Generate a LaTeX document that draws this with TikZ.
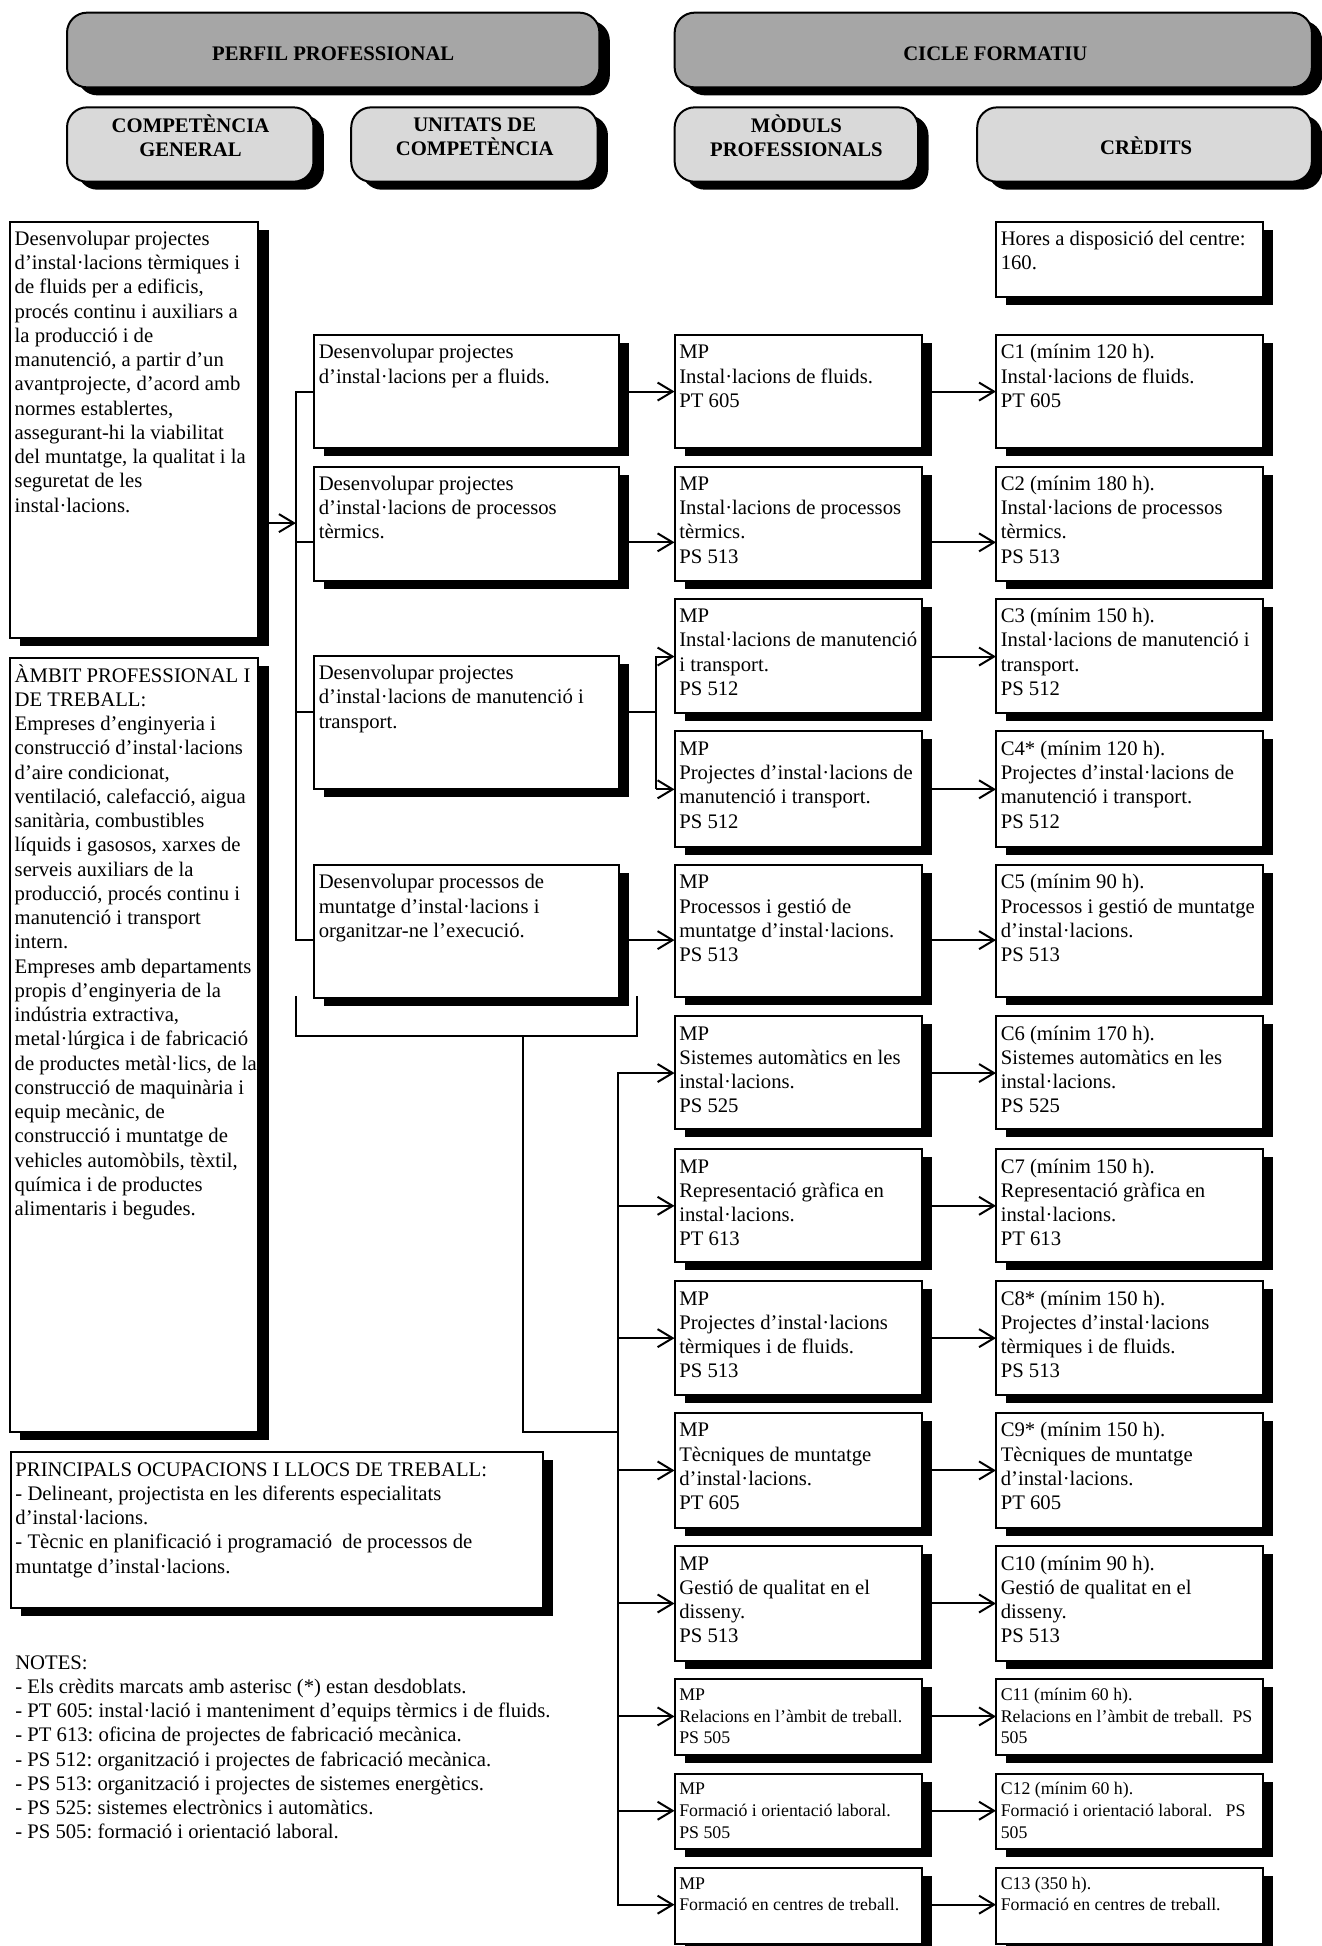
\documentclass[tikz,border=0pt]{standalone}
\usepackage{fontspec}
\setmainfont{Liberation Serif}
\usetikzlibrary{arrows.meta,shadows}
\definecolor{hdrdark}{RGB}{166,166,166}
\definecolor{hdrlight}{RGB}{217,217,217}
\frenchspacing
\newcommand{\nolsk}{\setlength{\lineskiplimit}{-20pt}\setlength{\lineskip}{0pt}}
\newcommand{\mkbox}[6]{%
  \node[box, minimum width={(#4-#2)*0.62066pt}, minimum height={(#5-#3)*0.62066pt}] (#1) at ({(#2+#4)/2},{(#3+#5)/2}) {};
  \node[txt] (#1-t) at ([xshift=2.2pt,yshift=-3.2pt]#1.north west) {\strut #6};%
}
\newcommand{\mksmbox}[6]{%
  \node[box, minimum width={(#4-#2)*0.62066pt}, minimum height={(#5-#3)*0.62066pt}] (#1) at ({(#2+#4)/2},{(#3+#5)/2}) {};
  \node[stxt] (#1-t) at ([xshift=2.2pt,yshift=-2.8pt]#1.north west) {\strut #6};%
}
\newcommand{\mkhdr}[6]{%
  \node[hdr, fill=#2, minimum width={(#5-#3)*0.62066pt}, minimum height={(#6-#4)*0.62066pt}] (#1) at ({(#3+#5)/2},{(#4+#6)/2}) {};%
}
\begin{document}
\begin{tikzpicture}[x=0.62066pt, y=-0.62066pt,
  ln/.style={line width=1pt, line cap=rect},
  arr/.style={line width=1pt, -{Straight Barb[length=7.5pt,width=9pt]}},
  box/.style={draw, line width=1pt, fill=white, inner sep=0pt, outer sep=0pt,
    drop shadow={shadow xshift=5.2pt, shadow yshift=-4pt, fill=black, opacity=1}},
  hdr/.style={draw, line width=1pt, inner sep=0pt, outer sep=0pt, rounded corners=10pt,
    drop shadow={shadow xshift=5.2pt, shadow yshift=-4pt, fill=black, opacity=1}},
  txt/.style={anchor=north west, inner sep=0pt, align=left, font=\fontsize{10.35pt}{12.13pt}\selectfont\nolsk},
  stxt/.style={anchor=north west, inner sep=0pt, align=left, font=\fontsize{8.9pt}{10.85pt}\selectfont\nolsk},
  htxt/.style={inner sep=0pt, align=center, font=\bfseries\fontsize{10.35pt}{12.13pt}\selectfont\nolsk}]
\useasboundingbox[fill=white] (0,0) rectangle (1065,1568);

% headers
\mkhdr{perfil}{hdrdark}{54}{10.2}{483}{70.4}
\node[htxt, anchor=base] (perfil-t) at (268.5,48.5) {PERFIL PROFESSIONAL};
\mkhdr{cicle}{hdrdark}{543.6}{10.2}{1057}{70.4}
\node[htxt, anchor=base] (cicle-t) at (802,48.5) {CICLE FORMATIU};
\mkhdr{hcg}{hdrlight}{54}{86.5}{252.6}{146.4}
\node[htxt, anchor=north] (hcg-t) at (153.5,91.8) {\strut COMPETÈNCIA\\GENERAL};
\mkhdr{huc}{hdrlight}{283}{86.5}{481.5}{146.4}
\node[htxt, anchor=north] (huc-t) at (382.5,91.8) {\strut UNITATS DE\\COMPETÈNCIA};
\mkhdr{hmp}{hdrlight}{543.6}{86.5}{739.8}{146.4}
\node[htxt, anchor=north] (hmp-t) at (641.7,91.8) {\strut MÒDULS\\PROFESSIONALS};
\mkhdr{hcr}{hdrlight}{787.4}{86.5}{1057}{146.4}
\node[htxt, anchor=base] (hcr-t) at (923.5,124.5) {CRÈDITS};

% left column
\mkbox{cg}{8}{178.6}{208}{513.7}{Desenvolupar projectes\\d’instal·lacions tèrmiques i\\de fluids per a edificis,\\procés continu i auxiliars a\\la producció i de\\manutenció, a partir d’un\\avantprojecte, d’acord amb\\normes establertes,\\assegurant-hi la viabilitat\\del muntatge, la qualitat i la\\seguretat de les\\instal·lacions.}
\mkbox{amb}{8}{529.8}{208}{1154}{ÀMBIT PROFESSIONAL I\\DE TREBALL:\\Empreses d’enginyeria i\\construcció d’instal·lacions\\d’aire condicionat,\\ventilació, calefacció, aigua\\sanitària, combustibles\\líquids i gasosos, xarxes de\\serveis auxiliars de la\\producció, procés continu i\\manutenció i transport\\intern.\\Empreses amb departaments\\propis d’enginyeria de la\\indústria extractiva,\\metal·lúrgica i de fabricació\\de productes metàl·lics, de la\\construcció de maquinària i\\equip mecànic, de\\construcció i muntatge de\\vehicles automòbils, tèxtil,\\química i de productes\\alimentaris i begudes.}
\mkbox{ocup}{8.6}{1170.3}{437.2}{1295.7}{PRINCIPALS OCUPACIONS I LLOCS DE TREBALL:\\- Delineant, projectista en les diferents especialitats\\d’instal·lacions.\\- Tècnic en planificació i programació\ \ de processos de\\muntatge d’instal·lacions.}
\node[txt] (notes) at (12,1330.8) {\strut NOTES:\\- Els crèdits marcats amb asterisc (*) estan desdoblats.\\- PT 605: instal·lació i manteniment d’equips tèrmics i de fluids.\\- PT 613: oficina de projectes de fabricació mecànica.\\- PS 512: organització i projectes de fabricació mecànica.\\- PS 513: organització i projectes de sistemes energètics.\\- PS 525: sistemes electrònics i automàtics.\\- PS 505: formació i orientació laboral.};

% unitats de competencia
\mkbox{uc1}{253}{270}{498.7}{361}{Desenvolupar projectes\\d’instal·lacions per a fluids.}
\mkbox{uc2}{253}{376}{498.7}{468}{Desenvolupar projectes\\d’instal·lacions de processos\\tèrmics.}
\mkbox{uc3}{253}{528.5}{498.7}{635.6}{Desenvolupar projectes\\d’instal·lacions de manutenció i\\transport.}
\mkbox{uc4}{253}{697}{498.7}{804}{Desenvolupar processos de\\muntatge d’instal·lacions i\\organitzar-ne l’execució.}

% moduls
\mkbox{mp1}{543.5}{270}{742.5}{361}{MP\\Instal·lacions de fluids.\\PT 605}
\mkbox{mp2}{543.5}{376}{742.5}{468}{MP\\Instal·lacions de processos\\tèrmics.\\PS 513}
\mkbox{mp3}{543.5}{482.6}{742.5}{574.6}{MP\\Instal·lacions de manutenció\\i transport.\\PS 512}
\mkbox{mp4}{543.5}{589.4}{742.5}{682.5}{MP\\Projectes d’instal·lacions de\\manutenció i transport.\\PS 512}
\mkbox{mp5}{543.5}{697}{742.5}{803.5}{MP\\Processos i gestió de\\muntatge d’instal·lacions.\\PS 513}
\mkbox{mp6}{543.5}{819}{742.5}{910}{MP\\Sistemes automàtics en les\\instal·lacions.\\PS 525}
\mkbox{mp7}{543.5}{926}{742.5}{1017}{MP\\Representació gràfica en\\instal·lacions.\\PT 613}
\mkbox{mp8}{543.5}{1032.5}{742.5}{1124}{MP\\Projectes d’instal·lacions\\tèrmiques i de fluids.\\PS 513}
\mkbox{mp9}{543.5}{1138.6}{742.5}{1231}{MP\\Tècniques de muntatge\\d’instal·lacions.\\PT 605}
\mkbox{mp10}{543.5}{1246}{742.5}{1338}{MP\\Gestió de qualitat en el\\disseny.\\PS 513}
\mksmbox{mp11}{543.5}{1353}{742.5}{1414}{MP\\Relacions en l’àmbit de treball.\\PS 505}
\mksmbox{mp12}{543.5}{1429}{742.5}{1490}{MP\\Formació i orientació laboral.\\PS 505}
\mksmbox{mp13}{543.5}{1505}{742.5}{1566}{MP\\Formació en centres de treball.}

% credits
\mkbox{hores}{802.5}{178.6}{1017.7}{239}{Hores a disposició del centre:\\160.}
\mkbox{c1}{802.5}{270}{1017.7}{361}{C1 (mínim 120 h).\\Instal·lacions de fluids.\\PT 605}
\mkbox{c2}{802.5}{376}{1017.7}{468}{C2 (mínim 180 h).\\Instal·lacions de processos\\tèrmics.\\PS 513}
\mkbox{c3}{802.5}{482.6}{1017.7}{574.6}{C3 (mínim 150 h).\\Instal·lacions de manutenció i\\transport.\\PS 512}
\mkbox{c4}{802.5}{589.4}{1017.7}{682.5}{C4* (mínim 120 h).\\Projectes d’instal·lacions de\\manutenció i transport.\\PS 512}
\mkbox{c5}{802.5}{697}{1017.7}{803.5}{C5 (mínim 90 h).\\Processos i gestió de muntatge\\d’instal·lacions.\\PS 513}
\mkbox{c6}{802.5}{819}{1017.7}{910}{C6 (mínim 170 h).\\Sistemes automàtics en les\\instal·lacions.\\PS 525}
\mkbox{c7}{802.5}{926}{1017.7}{1017}{C7 (mínim 150 h).\\Representació gràfica en\\instal·lacions.\\PT 613}
\mkbox{c8}{802.5}{1032.5}{1017.7}{1124}{C8* (mínim 150 h).\\Projectes d’instal·lacions\\tèrmiques i de fluids.\\PS 513}
\mkbox{c9}{802.5}{1138.6}{1017.7}{1231}{C9* (mínim 150 h).\\Tècniques de muntatge\\d’instal·lacions.\\PT 605}
\mkbox{c10}{802.5}{1246}{1017.7}{1338}{C10 (mínim 90 h).\\Gestió de qualitat en el\\disseny.\\PS 513}
\mksmbox{c11}{802.5}{1353}{1017.7}{1414}{C11 (mínim 60 h).\\Relacions en l’àmbit de treball.\ \ PS\\505}
\mksmbox{c12}{802.5}{1429}{1017.7}{1490}{C12 (mínim 60 h).\\Formació i orientació laboral.\ \ \ PS\\505}
\mksmbox{c13}{802.5}{1505}{1017.7}{1566}{C13 (350 h).\\Formació en centres de treball.}

% row coordinates
\coordinate (r1) at (0,315.5);
\coordinate (r2) at (0,437);
\coordinate (r3) at (0,529);
\coordinate (r4) at (0,636);
\coordinate (r5) at (0,757.5);
\coordinate (r6) at (0,864.6);
\coordinate (r7) at (0,971.6);
\coordinate (r8) at (0,1078.2);
\coordinate (r9) at (0,1184.8);
\coordinate (r10) at (0,1292);
\coordinate (r11) at (0,1383);
\coordinate (r12) at (0,1459);
\coordinate (r13) at (0,1534.7);
\coordinate (u3) at (0,574);
\coordinate (c0) at (0,421.5);
\coordinate (ba) at (238.4,0);
\coordinate (jx) at (528.5,0);
\coordinate (bus) at (498,0);
\coordinate (bk1) at (238.4,803);
\coordinate (bk2) at (513,803);
\coordinate (bkm) at (421.6,834.6);
\coordinate (bj) at (498,1154);

% connectors
\draw[ln] (uc1.west |- r1) -- (ba |- r1) -- (ba |- r5) -- (uc4.west |- r5);
\draw[ln] (ba |- r2) -- (uc2.west |- r2);
\draw[ln] (ba |- u3) -- (uc3.west |- u3);
\draw[arr] (cg.east |- c0) -- (ba |- c0);
\draw[arr] (uc1.east |- r1) -- (mp1.west |- r1);
\draw[arr] (uc2.east |- r2) -- (mp2.west |- r2);
\draw[ln] (uc3.east |- u3) -- (jx |- u3);
\draw[arr] (jx |- r4) -- (jx |- r3) -- (mp3.west |- r3);
\draw[arr] (jx |- r4) -- (mp4.west |- r4);
\draw[arr] (uc4.east |- r5) -- (mp5.west |- r5);
\draw[ln] (bk1) |- (bkm) -| (bk2);
\draw[ln] (bkm) |- (bj);
\draw[ln] (bus |- r6) -- (bus |- r13);
\foreach \i in {6,...,13} \draw[arr] (bus |- r\i) -- (mp\i.west |- r\i);
\foreach \i in {1,...,13} \draw[arr] (mp\i.east |- r\i) -- (c\i.west |- r\i);
\end{tikzpicture}
\end{document}
